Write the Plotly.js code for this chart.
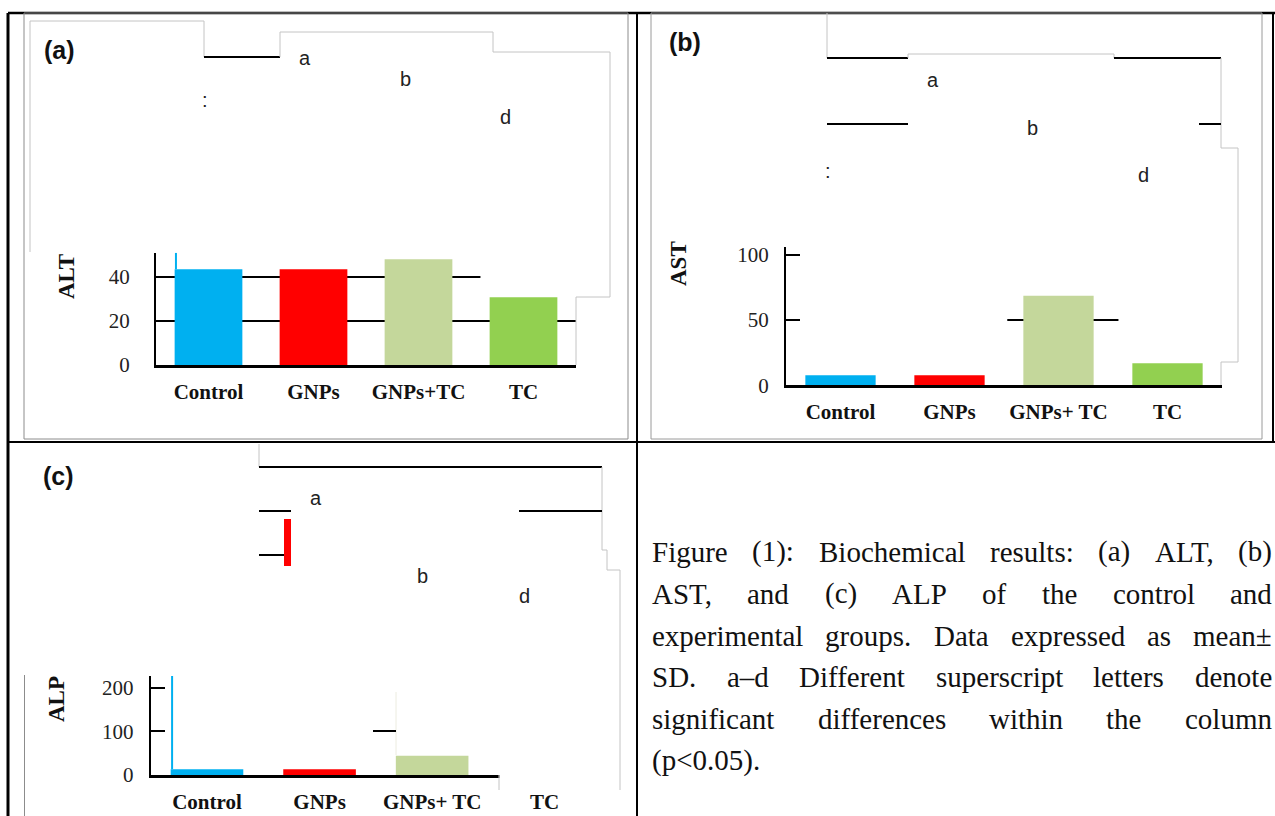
<!DOCTYPE html>
<html>
<head>
<meta charset="utf-8">
<script src="https://cdn.plot.ly/plotly-3.0.1.min.js"></script>
<style>html,body{margin:0;padding:0;background:#fff;} #chart{width:1275px;height:816px;}</style>
</head>
<body>
<div id="chart"></div>
<script>
// ---------- data ----------
const catLabelsA = ['Control', 'GNPs', 'GNPs+TC', 'TC'];
const catLabelsBC = ['Control', 'GNPs', 'GNPs+ TC', 'TC'];
const ALT = [43.3, 43.3, 47.8, 30.6];
const AST = [7.7, 7.7, 68.6, 16.8];
const ALP = [13, 13, 44, null];
const barColors = ['#00B0F0', '#FF0000', '#C4D79B', '#92D050'];
const ALT_ticks = [0, 20, 40];
const AST_ticks = [0, 50, 100];
const ALP_ticks = [0, 100, 200];
const panelTags = ['(a)', '(b)', '(c)'];
const axisTitles = ['ALT', 'AST', 'ALP'];
const sigLetters = ['a', 'b', 'd'];
const captionLines = [
  'Figure (1): Biochemical results: (a) ALT, (b)',
  'AST, and (c) ALP of the control and',
  'experimental groups. Data expressed as mean\u00b1',
  'SD. a\u2013d Different superscript letters denote',
  'significant differences within the column',
  '(p<0.05).'
];

// ---------- helpers (page layout in pixels -> paper) ----------
const W = 1275, H = 816;
const px = x => x / W;
const py = y => 1 - y / H;
const shapes = [];
function seg(x0, y0, x1, y1, color, width) {
  shapes.push({type: 'line', xref: 'paper', yref: 'paper', x0: px(x0), y0: py(y0), x1: px(x1), y1: py(y1),
    line: {color: color, width: width}});
}
function poly(pts, color, width) {
  for (let i = 0; i < pts.length - 1; i++) seg(pts[i][0], pts[i][1], pts[i + 1][0], pts[i + 1][1], color, width);
}
function rect(x0, y0, x1, y1, lineColor, width, fill) {
  shapes.push({type: 'rect', xref: 'paper', yref: 'paper', x0: px(x0), y0: py(y0), x1: px(x1), y1: py(y1),
    line: {color: lineColor, width: width}, fillcolor: fill || 'rgba(0,0,0,0)'});
}
const grey = '#c4c4c4';

// table borders
seg(8, 13, 1275, 13, '#000', 2.5);
seg(8, 13, 8, 816, '#000', 3);
seg(637, 13, 637, 816, '#000', 2);
seg(8, 442, 1275, 442, '#000', 2);
seg(1273, 13, 1273, 442, '#000', 2);
// inner picture frames
rect(24, 13, 628, 439, '#8c8c8c', 1);
rect(651, 13, 1262, 439, '#9a9a9a', 1);
seg(24.5, 675, 24.5, 816, '#8c8c8c', 1);

// panel (a) frame fragments
poly([[30, 252], [30, 21], [204, 21], [204, 57]], grey, 1);
seg(204, 57, 280, 57, '#000', 2);
poly([[280, 57], [280, 32], [493, 32], [493, 52], [610, 52], [610, 297], [576, 297], [576, 365]], grey, 1);
// panel (b) frame fragments
poly([[827, 13], [827, 58]], grey, 1);
seg(827, 58, 908, 58, '#000', 2);
poly([[908, 58], [908, 54], [1114, 54], [1114, 58]], grey, 1);
seg(1114, 58, 1221, 58, '#000', 2);
poly([[1221, 58], [1221, 148], [1238, 148], [1238, 362], [1221, 362], [1221, 385]], grey, 1);
seg(827, 124, 908, 124, '#000', 2);
seg(1199, 124, 1221, 124, '#000', 2);
// panel (c) frame fragments
poly([[259, 444], [259, 467]], grey, 1);
seg(259, 467, 602, 467, '#000', 2);
poly([[602, 467], [602, 550], [607, 550], [607, 570], [620, 570], [620, 790]], grey, 1);
seg(259, 511, 291, 511, '#000', 2);
seg(519, 511, 602, 511, '#000', 2);
rect(284, 519, 291, 566, '#FF0000', 0, '#FF0000');
seg(259, 555, 284, 555, '#000', 2);
seg(396, 692, 396, 755, '#ecece0', 1);
seg(373, 731, 396, 731, '#000', 2);

// data-referenced details
shapes.push({type: 'line', xref: 'x', yref: 'y', x0: -0.31, x1: -0.31, y0: ALT[0], y1: 50.8, line: {color: barColors[0], width: 2}});
shapes.push({type: 'rect', xref: 'x', yref: 'y', x0: 2.59, x1: 3.52, y0: 38, y1: 42, line: {width: 0}, fillcolor: '#fff'});
shapes.push({type: 'line', xref: 'x2', yref: 'y2', x0: 1.53, x1: 2.55, y0: 50, y1: 50, line: {color: '#000', width: 2}, layer: 'below'});
shapes.push({type: 'line', xref: 'x3', yref: 'y3', x0: -0.31, x1: -0.31, y0: ALP[0], y1: 226.5, line: {color: barColors[0], width: 2}});
rect(499.5, 772, 604, 779, 'rgba(0,0,0,0)', 0, '#fff');
seg(499, 775, 499, 790, grey, 1);

// ---------- annotations ----------
const annotations = [];
function txt(t, x, y, font, xanchor, angle) {
  annotations.push({text: t, x: px(x), y: py(y), xref: 'paper', yref: 'paper', showarrow: false,
    xanchor: xanchor || 'center', yanchor: 'middle', font: font, borderpad: 0, borderwidth: 0, textangle: angle || 0});
}
const tagFont = {family: 'Liberation Sans', size: 25, color: '#111', weight: 'bold'};
txt(panelTags[0], 44, 50, tagFont, 'left');
txt(panelTags[1], 669, 42, tagFont, 'left');
txt(panelTags[2], 43, 476, tagFont, 'left');

const letFont = {family: 'Liberation Sans', size: 20, color: '#222'};
txt(sigLetters[0], 305, 58.4, letFont); txt(sigLetters[1], 405.5, 79.4, letFont); txt(sigLetters[2], 505.5, 117.4, letFont);
txt(':', 205, 100, letFont);
txt(sigLetters[0], 933, 80.4, letFont); txt(sigLetters[1], 1032, 128.4, letFont); txt(sigLetters[2], 1143, 175.4, letFont);
txt(':', 828, 171, letFont);
txt(sigLetters[0], 315.5, 498.4, letFont); txt(sigLetters[1], 422, 576, letFont); txt(sigLetters[2], 524.5, 596.4, letFont);

const ytFont = {family: 'Liberation Serif', size: 23, color: '#111', weight: 'bold'};
txt(axisTitles[0], 66, 277, ytFont, 'center', -90);
txt(axisTitles[1], 679, 264, ytFont, 'center', -90);
txt(axisTitles[2], 56, 699, ytFont, 'center', -90);

// caption, justified like the reference
const fsCap = 29;
const capLeft = 652, capRight = 1272, capBase0 = 561.7, capStep = 41.8;
const cv = document.createElement('canvas').getContext('2d');
cv.font = fsCap + 'px "Liberation Serif"';
const esc = s => s.replace(/&/g, '&amp;').replace(/</g, '&lt;').replace(/>/g, '&gt;');
captionLines.forEach((line, i) => {
  const words = line.split(' ');
  const ws = words.map(w => cv.measureText(w).width);
  const total = ws.reduce((a, b) => a + b, 0);
  const last = i === captionLines.length - 1;
  const gap = last ? cv.measureText(' ').width : (capRight - capLeft - total) / (words.length - 1);
  let x = capLeft;
  const yc = capBase0 + i * capStep - 0.3375 * fsCap;
  words.forEach((w, k) => {
    txt(esc(w), x, yc, {family: 'Liberation Serif', size: fsCap, color: '#111'}, 'left');
    x += ws[k] + gap;
  });
});

// ---------- traces ----------
const traces = [
  {type: 'bar', x: catLabelsA, y: ALT, xaxis: 'x', yaxis: 'y', marker: {color: barColors, line: {width: 0}}, hoverinfo: 'none'},
  {type: 'bar', x: catLabelsBC, y: AST, xaxis: 'x2', yaxis: 'y2', marker: {color: barColors, line: {width: 0}}, hoverinfo: 'none'},
  {type: 'bar', x: catLabelsBC, y: ALP, xaxis: 'x3', yaxis: 'y3', marker: {color: barColors, line: {width: 0}}, hoverinfo: 'none'}
];

const catFont = {family: 'Liberation Serif', size: 21, color: '#111', weight: 'bold'};
const numFont = {family: 'Liberation Serif', size: 21, color: '#222'};
function xax(d0, d1, anchor) {
  return {domain: [px(d0), px(d1)], anchor: anchor, type: 'category', range: [-0.5, 3.5], showline: true,
    linecolor: '#000', linewidth: 2.5, ticks: '', showgrid: false, zeroline: false, tickfont: catFont,
    ticklabelstandoff: 6, fixedrange: true};
}
function yax(yb, yt, anchor, range, tv, grid, standoff) {
  const a = {domain: [py(yb), py(yt)], anchor: anchor, range: range, tickvals: tv, showline: true,
    linecolor: '#000', linewidth: 2, zeroline: false, tickfont: numFont, fixedrange: true,
    ticklabelstandoff: standoff};
  if (grid) { a.showgrid = true; a.gridcolor = '#000'; a.gridwidth = 2; a.ticks = ''; }
  else { a.showgrid = false; a.ticks = 'inside'; a.ticklen = 14; a.tickwidth = 2; a.tickcolor = '#000'; }
  return a;
}

const layout = {
  width: W, height: H, margin: {l: 0, r: 0, t: 0, b: 0}, paper_bgcolor: '#fff', plot_bgcolor: '#fff',
  showlegend: false, bargap: 0.355,
  xaxis: xax(156, 576, 'y'),
  yaxis: yax(365, 252.7, 'x', [0, 50.8], ALT_ticks, true, 20),
  xaxis2: xax(786, 1222, 'y2'),
  yaxis2: yax(385.3, 246.7, 'x2', [0, 106.1], AST_ticks, false, 11),
  xaxis3: xax(150.7, 601, 'y3'),
  yaxis3: yax(775, 676, 'x3', [0, 226.5], ALP_ticks, false, 11),
  shapes: shapes,
  annotations: annotations
};

Plotly.newPlot('chart', traces, layout, {displayModeBar: false, staticPlot: true});
</script>
</body>
</html>
